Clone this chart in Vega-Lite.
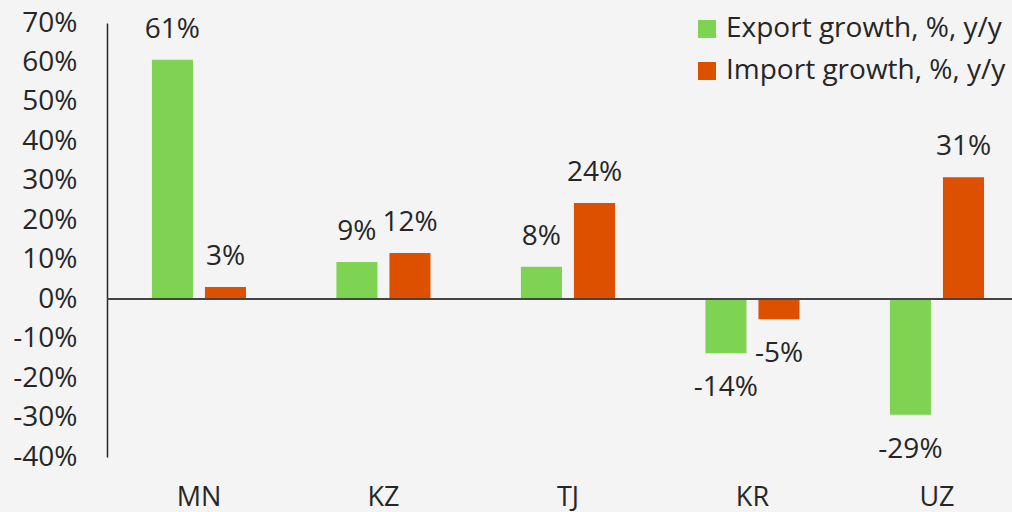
{
  "$schema": "https://vega.github.io/schema/vega-lite/v6.json",
  "autosize": "none",
  "width": 905,
  "height": 434,
  "padding": {"left": 107, "top": 23, "right": 0, "bottom": 55},
  "background": "#f4f4f4",
  "config": {
    "view": {"stroke": null},
    "font": "Open Sans",
    "axisY": {"labelOverlap": false},
    "locale": {"number": {"decimal": ".", "thousands": ",", "grouping": [3], "currency": ["$", ""], "minus": "-"}}
  },
  "data": {
    "values": [
      {"country": "MN", "series": "Export growth, %, y/y", "value": 0.607},
      {"country": "MN", "series": "Import growth, %, y/y", "value": 0.031},
      {"country": "KZ", "series": "Export growth, %, y/y", "value": 0.094},
      {"country": "KZ", "series": "Import growth, %, y/y", "value": 0.117},
      {"country": "TJ", "series": "Export growth, %, y/y", "value": 0.082},
      {"country": "TJ", "series": "Import growth, %, y/y", "value": 0.244},
      {"country": "KR", "series": "Export growth, %, y/y", "value": -0.137},
      {"country": "KR", "series": "Import growth, %, y/y", "value": -0.051},
      {"country": "UZ", "series": "Export growth, %, y/y", "value": -0.293},
      {"country": "UZ", "series": "Import growth, %, y/y", "value": 0.309}
    ]
  },
  "encoding": {
    "y": {"field": "value", "type": "quantitative",
      "scale": {"domain": [-0.4, 0.7], "nice": false, "zero": false},
      "axis": {"title": null, "format": ".0%", "values": [-0.4, -0.3, -0.2, -0.1, 0, 0.1, 0.2, 0.3, 0.4, 0.5, 0.6, 0.7], "labelOverlap": false, "labelBound": false, "grid": false, "ticks": false, "domain": true, "domainColor": "#262626", "domainWidth": 1.5, "labelFontSize": 28, "labelPadding": 30, "labelColor": "#262626"}}
  },
  "layer": [
    {
      "mark": {"type": "bar"},
      "encoding": {
        "x": {"field": "country", "type": "nominal", "sort": ["MN", "KZ", "TJ", "KR", "UZ"],
          "scale": {"paddingInner": 0.49, "paddingOuter": 0.1975, "align": 0.616},
          "axis": {"title": null, "domain": false, "ticks": false, "labelAngle": 0, "labelFontSize": 27, "labelColor": "#262626", "labelPadding": 27, "labelBaseline": "top"}},
        "xOffset": {"field": "series", "type": "nominal", "sort": ["Export growth, %, y/y", "Import growth, %, y/y"],
          "scale": {"paddingInner": 0.226, "paddingOuter": 0}},
        "color": {"field": "series", "type": "nominal", "sort": ["Export growth, %, y/y", "Import growth, %, y/y"],
          "scale": {"range": ["#7ED352", "#DD5000"]},
          "legend": {"orient": "none", "legendX": 586, "legendY": -8, "title": null, "symbolType": "square", "symbolSize": 324, "symbolStrokeWidth": 0, "symbolOpacity": 1, "labelFontSize": 28, "labelColor": "#262626", "labelOffset": 5, "rowPadding": 14, "labelLimit": 400}}
      }
    },
    {
      "mark": {"type": "rule", "color": "#444444", "strokeWidth": 1.5},
      "encoding": {"y": {"datum": 0}}
    },
    {
      "transform": [{"filter": "datum.value >= 0"}],
      "mark": {"type": "text", "baseline": "middle", "dy": -30, "fontSize": 28, "color": "#262626"},
      "encoding": {
        "x": {"field": "country", "type": "nominal", "sort": ["MN", "KZ", "TJ", "KR", "UZ"]},
        "xOffset": {"field": "series", "type": "nominal", "sort": ["Export growth, %, y/y", "Import growth, %, y/y"]},
        "text": {"field": "value", "type": "quantitative", "format": ".0%"}
      }
    },
    {
      "transform": [{"filter": "datum.value < 0"}],
      "mark": {"type": "text", "baseline": "middle", "dy": 35, "fontSize": 28, "color": "#262626"},
      "encoding": {
        "x": {"field": "country", "type": "nominal", "sort": ["MN", "KZ", "TJ", "KR", "UZ"]},
        "xOffset": {"field": "series", "type": "nominal", "sort": ["Export growth, %, y/y", "Import growth, %, y/y"]},
        "text": {"field": "value", "type": "quantitative", "format": ".0%"}
      }
    }
  ]
}
